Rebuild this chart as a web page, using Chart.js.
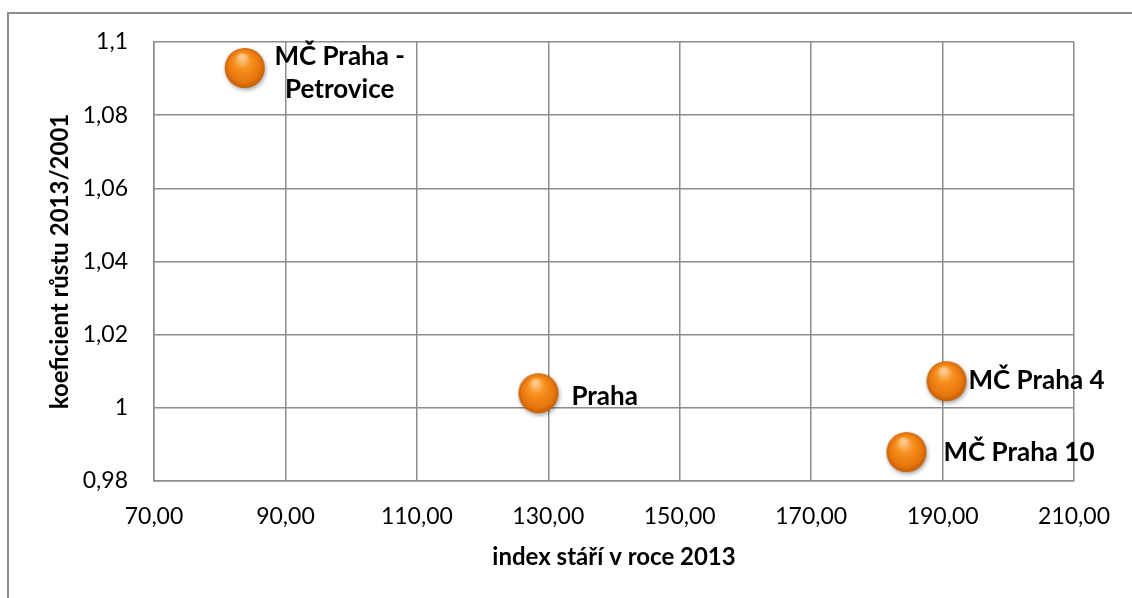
<!DOCTYPE html>
<html>
<head>
<meta charset="utf-8">
<script src="https://cdn.jsdelivr.net/npm/chart.js@4.4.0/dist/chart.umd.min.js"></script>
<style>
  body { margin: 0; background: #fff; }
  #wrap { width: 1132px; height: 598px; }
</style>
</head>
<body>
<div id="wrap"><canvas id="scatterChart" width="1132" height="598"></canvas></div>
<script>
// Data
const places = ['MČ Praha -\nPetrovice', 'Praha', 'MČ Praha 4', 'MČ Praha 10'];
const ageIndex = [83.8, 128.5, 190.6, 184.5];       // index stáří v roce 2013
const growthRate = [1.0929, 1.0040, 1.0073, 0.9879]; // koeficient růstu 2013/2001
const xMin = 70, xMax = 210, xStep = 20;
const yMin = 0.98, yMax = 1.1, yStep = 0.02;

const FONT = 'Lato, "Open Sans", sans-serif';
const GRID = '#8c8c8c';

// Glossy orange ball used as point style
function makeBall(r) {
  const size = r * 2 + 10;
  const c = document.createElement('canvas');
  c.width = size; c.height = size;
  const g = c.getContext('2d');
  const cx = size / 2, cy = size / 2;
  g.save();
  g.shadowColor = 'rgba(0,0,0,0.35)';
  g.shadowBlur = 4;
  g.shadowOffsetX = 1;
  g.shadowOffsetY = 2;
  const grad = g.createRadialGradient(cx - r * 0.15, cy - r * 0.55, r * 0.1, cx, cy, r);
  grad.addColorStop(0, '#ffc98f');
  grad.addColorStop(0.35, '#f7911f');
  grad.addColorStop(0.8, '#e8760d');
  grad.addColorStop(1, '#c35e05');
  g.fillStyle = grad;
  g.beginPath();
  g.arc(cx, cy, r, 0, Math.PI * 2);
  g.fill();
  g.restore();
  return c;
}
const ball = makeBall(20);

function fmt(v, digits) {
  return v.toFixed(digits).replace('.', ',');
}

// Frame of the chart object (only left and top edges are visible)
const framePlugin = {
  id: 'frame',
  beforeDraw(chart) {
    const ctx = chart.ctx;
    ctx.save();
    ctx.strokeStyle = GRID;
    ctx.lineWidth = 2;
    ctx.beginPath();
    ctx.moveTo(8, 598);
    ctx.lineTo(8, 13);
    ctx.lineTo(1132, 13);
    ctx.stroke();
    ctx.restore();
  }
};

// Data labels beside each ball
const labelPlugin = {
  id: 'pointLabels',
  afterDatasetsDraw(chart, args, opts) {
    const ctx = chart.ctx;
    const meta = chart.getDatasetMeta(0);
    ctx.save();
    ctx.font = 'bold 26px ' + FONT;
    ctx.fillStyle = '#000';
    ctx.textBaseline = 'middle';
    meta.data.forEach((pt, i) => {
      const off = opts.offsets[i];
      const lines = places[i].split('\n');
      ctx.textAlign = off.align;
      lines.forEach((line, j) => {
        ctx.fillText(line, pt.x + off.dx, pt.y + off.dy + j * 33);
      });
    });
    ctx.restore();
  }
};

new Chart(document.getElementById('scatterChart'), {
  type: 'scatter',
  data: {
    datasets: [{
      data: ageIndex.map((x, i) => ({ x: x, y: growthRate[i] })),
      pointStyle: ball,
      pointRadius: 20,
      pointHoverRadius: 20,
    }],
  },
  options: {
    responsive: false,
    animation: false,
    layout: { padding: { top: 42, right: 56, left: 0, bottom: 0 } },
    plugins: {
      legend: { display: false },
      tooltip: { enabled: false },
      pointLabels: {
        offsets: [
          { dx: 95, dy: -11, align: 'center' },
          { dx: 33, dy: 3, align: 'left' },
          { dx: 22, dy: -1, align: 'left' },
          { dx: 37, dy: 1, align: 'left' },
        ],
      },
    },
    scales: {
      x: {
        type: 'linear',
        min: xMin, max: xMax,
        afterFit: (scale) => { scale.height = 117; },
        ticks: {
          stepSize: xStep,
          padding: 22,
          color: '#000',
          font: { family: FONT, size: 23 },
          callback: (v) => fmt(v, 2),
        },
        grid: { color: GRID, lineWidth: 1.5, drawTicks: false },
        border: { color: GRID, width: 1.5 },
        title: {
          display: true,
          text: 'index stáří v roce 2013',
          color: '#000',
          font: { family: FONT, size: 24, weight: 'bold' },
          padding: { top: 0, bottom: 26 },
        },
      },
      y: {
        type: 'linear',
        min: yMin, max: yMax,
        afterFit: (scale) => { scale.width = 154; },
        ticks: {
          stepSize: yStep,
          padding: 26,
          color: '#000',
          font: { family: FONT, size: 23 },
          callback: (v) => String(parseFloat(v.toFixed(2))).replace('.', ','),
        },
        grid: { color: GRID, lineWidth: 1.5, drawTicks: false },
        border: { color: GRID, width: 1.5 },
        title: {
          display: true,
          text: 'koeficient růstu 2013/2001',
          color: '#000',
          font: { family: FONT, size: 24, weight: 'bold' },
          padding: { top: 46, bottom: 0 },
        },
      },
    },
  },
  plugins: [framePlugin, labelPlugin],
});
</script>
</body>
</html>
